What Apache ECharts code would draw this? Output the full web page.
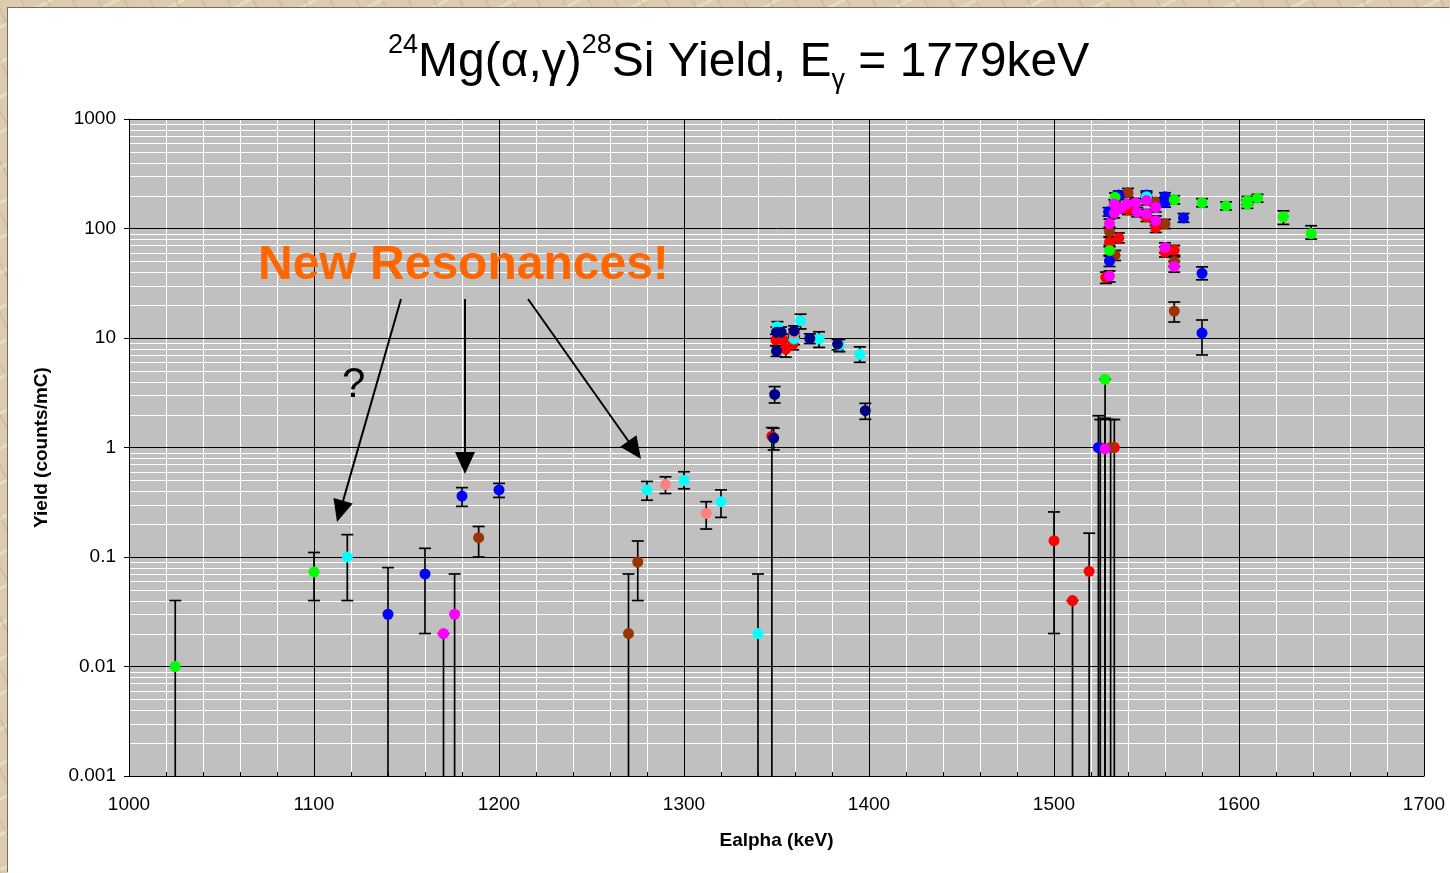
<!DOCTYPE html>
<html>
<head>
<meta charset="utf-8">
<script src="https://cdn.jsdelivr.net/npm/echarts@6/dist/echarts.min.js"></script>
<style>
html, body { margin: 0; padding: 0; width: 1450px; height: 873px; overflow: hidden; }
body {
  background-color: #dccbac;
  background-image:
    repeating-linear-gradient(63deg, rgba(160,130,90,0.18) 0 2px, rgba(0,0,0,0) 2px 23px),
    repeating-linear-gradient(-28deg, rgba(255,250,235,0.35) 0 3px, rgba(0,0,0,0) 3px 31px);
}
#chart { position: absolute; left: 8px; top: 8px; width: 1442px; height: 865px; background: #fff; box-shadow: -1px -1px 0 #6f6f6f; }
</style>
</head>
<body>
<div id="chart"></div>
<script>
// each point: [Ealpha (keV), yield, lower error, upper error]; lower 0 = bar runs off the axis
var redPts = [
  [1347.5, 1.27, 0, 1.52], [1349.7, 9.6, 8.5, 10.8], [1353.5, 9.6, 8.5, 10.8],
  [1355, 7.9, 6.7, 9.1], [1359, 8.8, 7.8, 9.9],
  [1500, 0.141, 0.02, 0.258], [1510, 0.04, 0, 0.04], [1519, 0.074, 0, 0.165],
  [1525, 1.0, 0, 1.8], [1532.6, 1.0, 0, 1.8],
  [1528, 35.8, 31.5, 40], [1530, 75, 68, 83], [1535, 82, 74, 91],
  [1540, 148, 134, 162], [1550, 128, 116, 140], [1555, 102, 92, 113],
  [1560, 61, 55, 68], [1565, 63.6, 57, 70]
];
var brownPts = [
  [1189, 0.15, 0.1, 0.19], [1270, 0.02, 0, 0.07], [1275, 0.09, 0.04, 0.14],
  [1530.6, 1.0, 0, 1.8], [1530, 93.5, 84, 103], [1533, 57, 51, 63],
  [1540, 212, 193, 232], [1555, 175, 160, 191], [1560, 110, 100, 121],
  [1565, 50, 45, 55], [1565, 17.6, 14, 21.3]
];
var bluePts = [
  [1140, 0.03, 0, 0.08], [1160, 0.07, 0.02, 0.12], [1180, 0.36, 0.29, 0.43],
  [1200, 0.41, 0.35, 0.47], [1524, 1.0, 0, 1.95],
  [1529.5, 142, 130, 155], [1530, 50.5, 45, 56], [1535, 202, 185, 220],
  [1550, 202, 185, 220], [1560, 195, 178, 212], [1560, 172, 157, 188],
  [1570, 125, 114, 137], [1580, 39, 34, 44.6], [1580, 11.1, 7, 14.6]
];
var greenPts = [
  [1025, 0.01, 0, 0.04], [1100, 0.073, 0.04, 0.11], [1527.6, 4.2, 0, 4.2],
  [1530, 63, 57, 70], [1533, 193, 176, 211], [1565, 183, 168, 199],
  [1580, 172, 158, 187], [1593, 161, 148, 175], [1604.5, 167, 153, 182],
  [1604.5, 180, 165, 196], [1610, 189, 174, 205], [1624, 128, 109, 145],
  [1639, 90, 80, 106]
];
var cyanPts = [
  [1118, 0.1, 0.04, 0.16], [1280, 0.41, 0.33, 0.49], [1300, 0.5, 0.42, 0.6],
  [1320, 0.32, 0.23, 0.41], [1340, 0.02, 0, 0.07],
  [1350.5, 12.7, 11.2, 14.1], [1359.5, 9.8, 8.7, 11], [1363, 14.4, 12.1, 16.5],
  [1373, 9.8, 8.2, 11.4], [1384, 8.6, 7.5, 9.7], [1395, 7.1, 6.0, 8.3],
  [1550, 195, 178, 212]
];
var salmonPts = [
  [1290, 0.46, 0.38, 0.54], [1312, 0.25, 0.18, 0.32], [1359.5, 11, 10, 12]
];
var navyPts = [
  [1348.5, 1.22, 0.95, 1.5], [1349, 3.05, 2.55, 3.6], [1350, 11.3, 10, 12.6],
  [1350, 7.6, 6.8, 8.5], [1352.5, 11.3, 10, 12.6], [1359.5, 11.6, 10.4, 12.9],
  [1368, 9.9, 8.9, 10.9], [1383, 8.8, 7.8, 9.7], [1398, 2.17, 1.81, 2.53]
];
var magentaPts = [
  [1170, 0.02, 0, 0.02], [1176, 0.03, 0, 0.07], [1527.6, 0.97, 0, 1.85],
  [1530, 36.8, 32.5, 41], [1530, 111, 100, 122], [1532.6, 138, 125, 151],
  [1532.6, 167, 152, 183], [1536, 153, 139, 168], [1539.3, 167, 152, 183],
  [1544, 172, 156, 188], [1545, 141, 128, 155], [1550, 180, 164, 197],
  [1550, 136, 124, 149], [1555, 156, 142, 171], [1555, 118, 107, 130],
  [1560, 67, 60, 74], [1565, 45, 40, 50]
];

var yTickLabels = ['0.001', '0.01', '0.1', '1', '10', '100', '1000'];
var X_MIN = 1000, X_MAX = 1700, Y_MIN = 0.001, Y_MAX = 1000;

var FONT = '"Liberation Sans", Arial, sans-serif';
var CAP = 6;

// white minor gridlines at 2..9 of every decade
var minorY = [];
for (var e = -3; e < 3; e++) {
  for (var m = 2; m <= 9; m++) minorY.push([X_MIN, m * Math.pow(10, e)]);
}

function renderMinor(params, api) {
  var cs = params.coordSys;
  var y = Math.round(api.coord([X_MIN, api.value(1)])[1]) + 0.5;
  return { type: 'line', silent: true,
    shape: { x1: cs.x, y1: y, x2: cs.x + cs.width, y2: y },
    style: { stroke: '#ffffff', lineWidth: 1 } };
}

function renderErr(params, api) {
  var cs = params.coordSys;
  var x = api.value(0), lo = api.value(2), hi = api.value(3);
  var top = api.coord([x, hi]);
  var cx = top[0];
  var toAxis = !(lo >= Y_MIN);
  var yBot = toAxis ? cs.y + cs.height : api.coord([x, lo])[1];
  var st = { stroke: '#000', lineWidth: 1.7 };
  var kids = [
    { type: 'line', shape: { x1: cx, y1: top[1], x2: cx, y2: yBot }, style: st },
    { type: 'line', shape: { x1: cx - CAP, y1: top[1], x2: cx + CAP, y2: top[1] }, style: st }
  ];
  if (!toAxis) {
    kids.push({ type: 'line', shape: { x1: cx - CAP, y1: yBot, x2: cx + CAP, y2: yBot }, style: st });
  }
  return { type: 'group', children: kids };
}

var groups = [
  { name: 'red', color: '#ff0000', data: redPts },
  { name: 'brown', color: '#993300', data: brownPts },
  { name: 'blue', color: '#0000ff', data: bluePts },
  { name: 'green', color: '#00ff00', data: greenPts },
  { name: 'cyan', color: '#00ffff', data: cyanPts },
  { name: 'salmon', color: '#ff8080', data: salmonPts },
  { name: 'navy', color: '#000080', data: navyPts },
  { name: 'magenta', color: '#ff00ff', data: magentaPts }
];

var series = [{
  type: 'custom', name: 'minor', data: minorY, renderItem: renderMinor,
  encode: { x: 0, y: 1 }, z: 0.5, silent: true
}];
groups.forEach(function (g) {
  series.push({
    type: 'custom', name: g.name + ' err', data: g.data, renderItem: renderErr,
    encode: { x: 0, y: 1 }, z: 3, silent: true
  });
  series.push({
    type: 'scatter', name: g.name, data: g.data, encode: { x: 0, y: 1 },
    symbol: 'circle', symbolSize: 11, z: 3,
    itemStyle: { color: g.color, opacity: 1 },
    emphasis: { disabled: true }
  });
});

// annotation arrow: line plus filled head
function arrow(x1, y1, x2, y2) {
  var dx = x2 - x1, dy = y2 - y1, len = Math.sqrt(dx * dx + dy * dy);
  var ux = dx / len, uy = dy / len, hl = 22, hw = 10;
  var bx = x2 - ux * hl, by = y2 - uy * hl;
  return [
    { type: 'line', shape: { x1: x1, y1: y1, x2: bx, y2: by }, style: { stroke: '#000', lineWidth: 2 }, z: 10 },
    { type: 'polygon', shape: { points: [[x2, y2], [bx - uy * hw, by + ux * hw], [bx + uy * hw, by - ux * hw]] },
      style: { fill: '#000' }, z: 10 }
  ];
}

var graphics = [
  { type: 'text', left: 250, top: 234, z: 10,
    style: { text: 'New Resonances!', fill: '#ff6600', font: 'bold 48px ' + FONT } },
  { type: 'text', left: 334, top: 356, z: 10,
    style: { text: '?', fill: '#000', font: '42px ' + FONT } }
].concat(arrow(393, 291, 329, 514), arrow(457, 291, 457, 466), arrow(520, 291, 633, 451));

var chart = echarts.init(document.getElementById('chart'));
chart.setOption({
  animation: false,
  title: {
    text: '{sup|24}{m|Mg(α,γ)}{sup|28}{m|Si Yield, E}{sub|γ}{m| = 1779keV}',
    left: 380, top: 24, padding: 0,
    textStyle: {
      fontWeight: 'normal',
      rich: {
        m: { fontSize: 48, fontFamily: FONT, fontWeight: 'normal', color: '#000', lineHeight: 62 },
        sup: { fontSize: 27, fontFamily: FONT, fontWeight: 'normal', color: '#000', lineHeight: 46, verticalAlign: 'top' },
        sub: { fontSize: 27, fontFamily: FONT, fontWeight: 'normal', color: '#000', lineHeight: 8, verticalAlign: 'bottom' }
      }
    }
  },
  grid: { left: 121, top: 111, width: 1295, height: 657, show: true, backgroundColor: '#c0c0c0', borderWidth: 0 },
  xAxis: {
    type: 'value', min: X_MIN, max: X_MAX, interval: 100, z: 1,
    name: 'Ealpha (keV)', nameLocation: 'middle', nameGap: 55,
    nameTextStyle: { fontFamily: FONT, fontSize: 19, fontWeight: 'bold', color: '#000' },
    axisLine: { show: true, lineStyle: { color: '#000', width: 1 } },
    axisTick: { show: true, inside: true, length: 4, lineStyle: { color: '#000' } },
    minorTick: { show: true, splitNumber: 5, length: 4, lineStyle: { color: '#000' } },
    axisLabel: { fontFamily: FONT, fontSize: 19, color: '#000', margin: 19,
      formatter: function (v) { return String(v); } },
    splitLine: { show: true, lineStyle: { color: '#000', width: 1 } },
    minorSplitLine: { show: true, lineStyle: { color: '#ffffff', width: 1 } }
  },
  yAxis: {
    type: 'log', logBase: 10, min: Y_MIN, max: Y_MAX, z: 1.5,
    name: 'Yield (counts/mC)', nameLocation: 'middle', nameGap: 78,
    nameTextStyle: { fontFamily: FONT, fontSize: 19, fontWeight: 'bold', color: '#000' },
    axisLine: { show: true, lineStyle: { color: '#000', width: 1 } },
    axisTick: { show: true, inside: false, length: 5, lineStyle: { color: '#000' } },
    axisLabel: {
      fontFamily: FONT, fontSize: 19, color: '#000', margin: 13,
      formatter: function (v) { return yTickLabels[Math.round(Math.log10(v)) + 3]; }
    },
    splitLine: { show: true, lineStyle: { color: '#000', width: 1 } }
  },
  graphic: graphics,
  series: series
});
</script>
</body>
</html>
